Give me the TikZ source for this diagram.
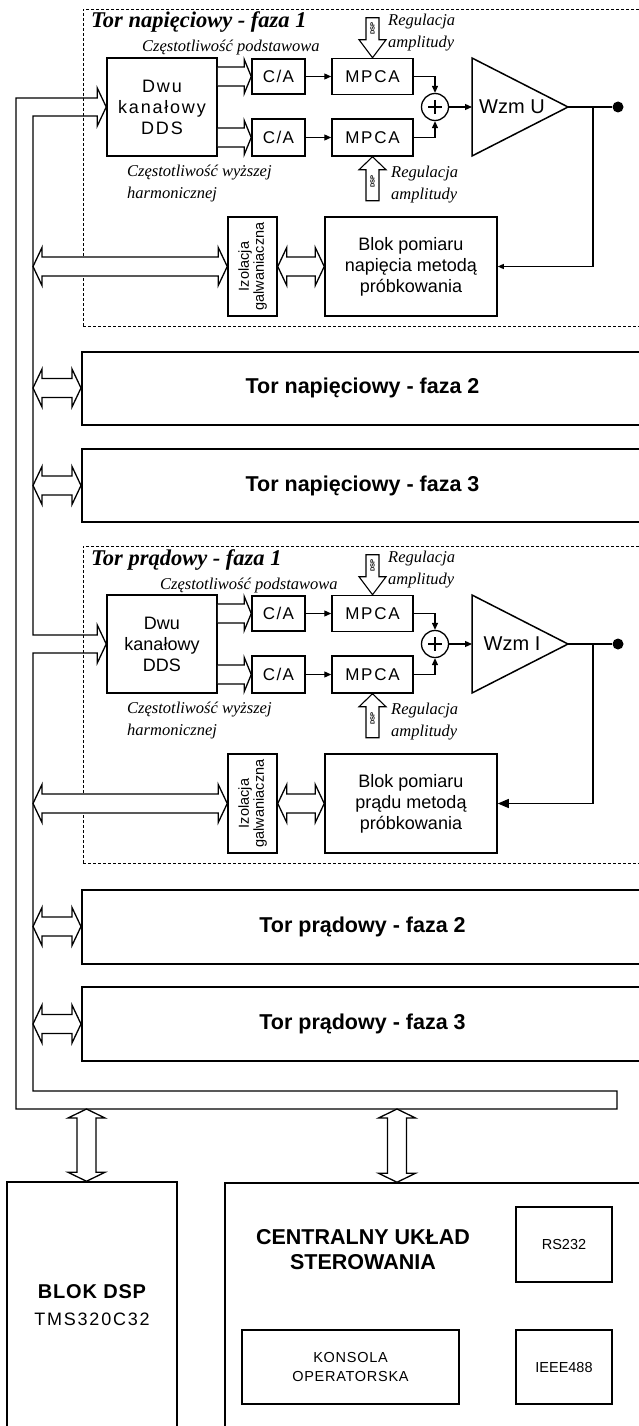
\documentclass[tikz,border=0pt]{standalone}
\usepackage{fontspec}
\setmainfont{Liberation Serif}
\setsansfont{Liberation Sans}
\usetikzlibrary{calc,arrows.meta}

\newcommand{\fs}[2]{\fontsize{#1}{#2}\selectfont}

\tikzset{
 blk/.style={draw, line width=1.5pt, fill=white, inner sep=0pt, font=\sffamily, align=center},
 hol/.style={draw, line width=1.3pt, fill=white, line join=miter},
 conn/.style={line width=1.2pt, -{Triangle[length=7pt,width=6pt]}},
 dframe/.style={draw, line width=0.9pt, dash pattern=on 3pt off 2pt, inner sep=0pt},
 torbox/.style={draw, line width=2pt, inner sep=0pt, minimum width=561, font=\sffamily\bfseries\fs{21.5}{26}},
 ital/.style={font=\itshape\fs{16.5}{22}, align=left, inner sep=0pt},
}

% double headed horizontal hollow arrow: left tip #1, right tip #2
\newcommand{\dblH}[2]{%
 \draw[hol] let \p1=(#1), \p2=(#2) in (\x1,\y1) -- (\x1+9,\y1+19) -- (\x1+9,\y1+9.5) -- (\x2-9,\y1+9.5) -- (\x2-9,\y1+19) -- (\x2,\y1) -- (\x2-9,\y1-19) -- (\x2-9,\y1-9.5) -- (\x1+9,\y1-9.5) -- (\x1+9,\y1-19) -- cycle;}
% single headed horizontal hollow arrow: tail #1, tip #2
\newcommand{\sglH}[2]{%
 \draw[hol] let \p1=(#1), \p2=(#2) in (\x1,\y1+9.5) -- (\x2-7,\y1+9.5) -- (\x2-7,\y1+17) -- (\x2,\y1) -- (\x2-7,\y1-17) -- (\x2-7,\y1-9.5) -- (\x1,\y1-9.5);}
% double headed vertical hollow arrow: top tip #1, bottom tip #2
\newcommand{\dblV}[2]{%
 \draw[hol] let \p1=(#1), \p2=(#2) in (\x1,\y1) -- (\x1+18.5,\y1-9) -- (\x1+9.5,\y1-9) -- (\x1+9.5,\y2+9) -- (\x1+18.5,\y2+9) -- (\x1,\y2) -- (\x1-18.5,\y2+9) -- (\x1-9.5,\y2+9) -- (\x1-9.5,\y1-9) -- (\x1-18.5,\y1-9) -- cycle;}
% DSP arrow pointing down onto #1
\newcommand{\dspdown}[2]{%
 \draw[hol, line width=1.1pt] let \p1=(#1) in (\x1,\y1) -- (\x1+13.5,\y1+18) -- (\x1+6.5,\y1+18) -- (\x1+6.5,\y1+40) -- (\x1-6.5,\y1+40) -- (\x1-6.5,\y1+18) -- (\x1-13.5,\y1+18) -- cycle;
 \node[rotate=90, font=\sffamily\bfseries\fs{6}{6}, inner sep=0pt] (#2) at ($(#1)+(0,-29)$) {DSP};}
% DSP arrow pointing up onto #1
\newcommand{\dspup}[2]{%
 \draw[hol, line width=1.1pt] let \p1=(#1) in (\x1,\y1) -- (\x1+13.5,\y1-13) -- (\x1+6.5,\y1-13) -- (\x1+6.5,\y1-44) -- (\x1-6.5,\y1-44) -- (\x1-6.5,\y1-13) -- (\x1-13.5,\y1-13) -- cycle;
 \node[rotate=90, font=\sffamily\bfseries\fs{6}{6}, inner sep=0pt] (#2) at ($(#1)+(0,25)$) {DSP};}

% one measuring channel in local coordinates
\newcommand{\torsec}[7]{%
 \node[dframe, minimum width=562, minimum height=317] (fr#1) at (364,167.5) {};
 \node[anchor=base west, inner sep=0pt, font=\bfseries\itshape\fs{22.5}{26}] (ti#1) at (91,28) {#2};
 \node[ital, anchor=base west] (fq#1) at (#6,52) {Częstotliwość podstawowa};
 \node[blk, minimum width=110, minimum height=98, font=\sffamily\fs{18}{21}\addfontfeature{LetterSpace=#5}] (dds#1) at (162,107) {Dwu\\kanałowy\\DDS};
 \node[blk, minimum width=53, minimum height=35, font=\sffamily\fs{17}{20}\addfontfeature{LetterSpace=8}] (caA#1) at (278.5,76.5) {C/A};
 \node[blk, minimum width=53, minimum height=37, font=\sffamily\fs{17}{20}\addfontfeature{LetterSpace=8}] (caB#1) at (278.5,137.5) {C/A};
 \node[blk, minimum width=81, minimum height=36, font=\sffamily\fs{17}{20}\addfontfeature{LetterSpace=10}] (mpA#1) at (372.5,76.5) {MPCA};
 \node[blk, minimum width=81, minimum height=37, font=\sffamily\fs{17}{20}\addfontfeature{LetterSpace=10}] (mpB#1) at (372.5,137.5) {MPCA};
 \node[draw, circle, line width=1.3pt, minimum size=27, inner sep=0pt] (sum#1) at (435,107) {};
 \draw[line width=1.6pt] ($(sum#1)+(-7,0)$) -- ($(sum#1)+(7,0)$) ($(sum#1)+(0,-7)$) -- ($(sum#1)+(0,7)$);
 \coordinate (ampL#1) at (472,107);
 \coordinate (ampR#1) at (568,107);
 \draw[line width=1.5pt, line join=miter] (472,58) -- (ampR#1) -- (472,156) -- cycle;
 \node[font=\sffamily\fs{20}{24}, inner sep=0pt] (amp#1) at (512,107) {#3};
 \node[circle, fill, minimum size=11, inner sep=0pt] (dot#1) at (618,107) {};
 \coordinate (br#1) at (593,107);
 \node[blk, rotate=90, minimum width=99, minimum height=49, font=\sffamily\fs{14.5}{15}] (iso#1) at (252.5,266.5) {Izolacja\\galwaniaczna};
 \node[blk, minimum width=172, minimum height=99, font=\sffamily\fs{18}{21}] (bl#1) at (411,266.5) {Blok pomiaru\\#4\\próbkowania};
 \draw[conn] (caA#1) -- (mpA#1);
 \draw[conn] (caB#1) -- (mpB#1);
 \draw[conn] (mpA#1.east) -| (sum#1.north);
 \draw[conn] (mpB#1.east) -| (sum#1.south);
 \draw[conn] (sum#1.east) -- (ampL#1);
 \draw[line width=1.2pt] (ampR#1) -- (dot#1);
 \draw[line width=1.2pt, #7] (br#1) |- (bl#1.east);
 \sglH{dds#1.east |- caA#1.west}{caA#1.west}
 \sglH{dds#1.east |- caB#1.west}{caB#1.west}
 \dblH{iso#1.south}{bl#1.west}
 \dspdown{mpA#1.north}{dspA#1}
 \node[ital, anchor=west] (rgA#1) at (388,33) {Regulacja\\amplitudy};
 \dspup{mpB#1.south}{dspB#1}
 \node[ital, anchor=west] (rgB#1) at (391,185) {Regulacja\\amplitudy};
 \node[ital, anchor=west] (fh#1) at (127,184) {Częstotliwość wyższej\\harmonicznej};
}

\begin{document}
\begin{tikzpicture}[x=1pt, y=-1pt]
\useasboundingbox (0,0) rectangle (639,1426);
\clip (0,0) rectangle (639,1426);
\fill[white] (0,0) rectangle (639,1426);

\begin{scope}
\torsec{a}{Tor napięciowy - faza 1}{Wzm U}{napięcia metodą}{10}{142}{-{Triangle[length=6pt,width=5pt]}}
\end{scope}
\begin{scope}[shift={(0,537)}]
\torsec{b}{Tor prądowy - faza 1}{Wzm I}{prądu metodą}{0}{160}{-{Triangle[length=11pt,width=9pt]}}
\end{scope}

\node[torbox, minimum height=73] (vf2) at (362.5,388) {Tor napięciowy - faza 2};
\node[torbox, minimum height=73] (vf3) at (362.5,485.5) {Tor napięciowy - faza 3};
\node[torbox, minimum height=74] (cf2) at (362.5,926.5) {Tor prądowy - faza 2};
\node[torbox, minimum height=74] (cf3) at (362.5,1024) {Tor prądowy - faza 3};

% bus
\coordinate (busI) at (33,1091);
\coordinate (busO) at (16,1109);
\coordinate (busE) at (617,1100);
\draw[hol, fill=none] let \p1=(ddsa.west), \p2=(ddsb.west), \p3=(busI), \p4=(busO), \p5=(busE) in
 (\x1-9,\y1+19) -- (\x1,\y1) -- (\x1-9,\y1-19) -- (\x1-9,\y1-9) -- (\x3,\y1-9) -- (\x3,\y2+9) -- (\x2-9,\y2+9) -- (\x2-9,\y2+19) -- (\x2,\y2) -- (\x2-9,\y2-19) -- (\x2-9,\y2-9) -- (\x3,\y2-9) -- (\x3,\y3) -- (\x5,\y3) -- (\x5,\y4) -- (\x4,\y4) -- (\x4,\y1+9) -- (\x1-9,\y1+9) -- cycle;

\dblH{busI |- isoa.north}{isoa.north}
\dblH{busI |- isob.north}{isob.north}
\dblH{busI |- vf2.west}{vf2.west}
\dblH{busI |- vf3.west}{vf3.west}
\dblH{busI |- cf2.west}{cf2.west}
\dblH{busI |- cf3.west}{cf3.west}

% bottom blocks
\node[blk, minimum width=170, minimum height=246, font=\sffamily\fs{20}{27}] (dsp) at (92,1305) {{\bfseries\addfontfeature{LetterSpace=4}BLOK DSP}\\{\fs{18}{27}\addfontfeature{LetterSpace=10}TMS320C32}};
\node[blk, minimum width=420, minimum height=247] (cen) at (435,1306.5) {};
\node[font=\sffamily\bfseries\fs{21.5}{25}, align=center, inner sep=0pt] (centxt) at (363,1250) {CENTRALNY UKŁAD\\STEROWANIA};
\node[blk, line width=1.2pt, minimum width=96, minimum height=75, font=\sffamily\fs{14.5}{18}] (rs) at (564,1244.5) {RS232};
\node[blk, line width=1.2pt, minimum width=217, minimum height=74, font=\sffamily\fs{14.5}{19}\addfontfeature{LetterSpace=5}] (kon) at (350.5,1367) {KONSOLA\\OPERATORSKA};
\node[blk, line width=1.2pt, minimum width=96, minimum height=74, font=\sffamily\fs{14.5}{18}] (ieee) at (564,1367) {IEEE488};

\coordinate (dspin) at ($(dsp.north)+(-5.5,0)$);
\coordinate (cenin) at ($(cen.north)+(-38,0)$);
\dblV{busO -| dspin}{dspin}
\dblV{busO -| cenin}{cenin}
\end{tikzpicture}
\end{document}
